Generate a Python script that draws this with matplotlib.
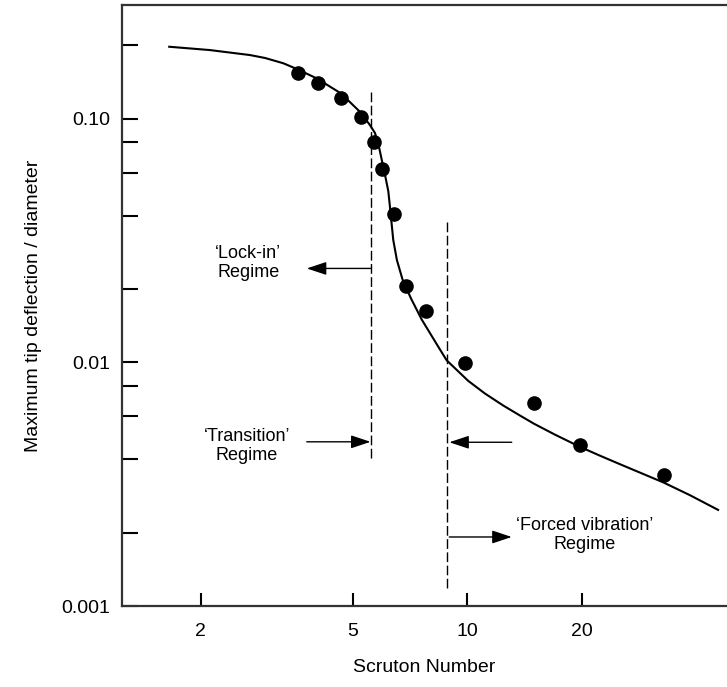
import matplotlib.pyplot as plt
from matplotlib.ticker import FixedLocator, NullFormatter

plt.rcParams['font.family'] = ['Liberation Sans', 'DejaVu Sans']

# measured points (Scruton number, max tip deflection / diameter)
sc_pts = [3.59, 4.05, 4.66, 5.25, 5.68, 5.98, 6.41, 6.88, 7.78, 9.85, 14.9, 19.7, 32.7]
defl_pts = [0.1536, 0.1406, 0.1216, 0.1019, 0.0804, 0.062, 0.0405, 0.0206, 0.0162,
            0.0099, 0.00684, 0.0046, 0.00344]

# fitted curve
sc_curve = [1.652, 2.112, 2.689, 2.946, 3.288, 3.587, 4.022, 4.658, 5.224, 5.549,
            5.72, 5.834, 6.014, 6.11, 6.199, 6.262, 6.388, 6.53, 6.761, 7.11,
            7.584, 8.381, 8.817, 10.04, 11.11, 12.41, 13.73, 14.94, 16.96, 19.72,
            22.25, 25.1, 32.7, 38.3, 45.4]
defl_curve = [0.1975, 0.1914, 0.1826, 0.1776, 0.1690, 0.1595, 0.1465, 0.1271, 0.1068,
              0.0942, 0.0874, 0.0792, 0.0635, 0.0565, 0.0505, 0.0435, 0.0318, 0.0263,
              0.0218, 0.0183, 0.0150, 0.0116, 0.0102, 0.0084, 0.00745, 0.00665,
              0.00605, 0.0056, 0.00505, 0.0045, 0.00414, 0.00382, 0.00321, 0.00285,
              0.00248]

# regime boundaries
sc_lockin = 5.57
sc_forced = 8.85

x_ticks = [2, 5, 10, 20]
y_major = [0.001, 0.01, 0.1]
y_major_labels = ['0.001', '0.01', '0.10']
y_minor = [0.002, 0.004, 0.006, 0.008, 0.02, 0.04, 0.06, 0.08, 0.2]

fig = plt.figure(figsize=(7.27, 6.87), dpi=100)
ax = fig.add_axes([0.1674, 0.1179, 0.8326, 0.8748])
ax.set_xscale('log')
ax.set_yscale('log')
ax.set_xlim(1.24, 47.9)
ax.set_ylim(0.001, 0.293)

ax.plot(sc_curve, defl_curve, color='black', lw=1.5, solid_joinstyle='round')
ax.plot(sc_pts, defl_pts, 'o', color='black', ms=9.5, ls='none')

ax.plot([sc_lockin, sc_lockin], [0.00404, 0.129], color='black', lw=1.0, dashes=(7, 2.5))
ax.plot([sc_forced, sc_forced], [0.00118, 0.0378], color='black', lw=1.0, dashes=(7, 2.5))

arrow = dict(arrowstyle='-|>,head_length=0.6,head_width=0.2', color='black', lw=1.0,
             mutation_scale=20, shrinkA=0, shrinkB=0)
ax.annotate('', xy=(3.79, 0.0243), xytext=(sc_lockin, 0.0243), arrowprops=arrow)
ax.annotate('', xy=(sc_lockin, 0.00472), xytext=(3.79, 0.00472), arrowprops=arrow)
ax.annotate('', xy=(8.96, 0.0047), xytext=(13.06, 0.0047), arrowprops=arrow)
ax.annotate('', xy=(13.06, 0.00192), xytext=(8.96, 0.00192), arrowprops=arrow)

txt = dict(fontsize=13, ha='center', va='center', multialignment='center', linespacing=1.15)
ax.text(2.66, 0.0255, '\u2018Lock-in\u2019\nRegime', **txt)
ax.text(2.64, 0.00455, '\u2018Transition\u2019\nRegime', **txt)
ax.text(20.3, 0.00196, '\u2018Forced vibration\u2019\nRegime', **txt)

ax.spines['right'].set_visible(False)
for side in ['left', 'top', 'bottom']:
    ax.spines[side].set_linewidth(1.6)
    ax.spines[side].set_color('#333333')

ax.xaxis.set_major_locator(FixedLocator(x_ticks))
ax.xaxis.set_minor_locator(FixedLocator([]))
ax.set_xticklabels([str(t) for t in x_ticks])
ax.yaxis.set_major_locator(FixedLocator(y_major))
ax.yaxis.set_minor_locator(FixedLocator(y_minor))
ax.set_yticklabels(y_major_labels)
ax.yaxis.set_minor_formatter(NullFormatter())

ax.tick_params(axis='x', which='major', direction='in', length=9.5, width=1.5,
               labelsize=14, pad=12, top=False)
ax.tick_params(axis='y', which='both', direction='in', length=11.3, width=1.5,
               labelsize=14, pad=8.5, right=False)

ax.set_xlabel('Scruton Number', fontsize=14, labelpad=14)
ax.set_ylabel('Maximum tip deflection / diameter', fontsize=14, labelpad=14)

fig.savefig('out.png', dpi=100)
